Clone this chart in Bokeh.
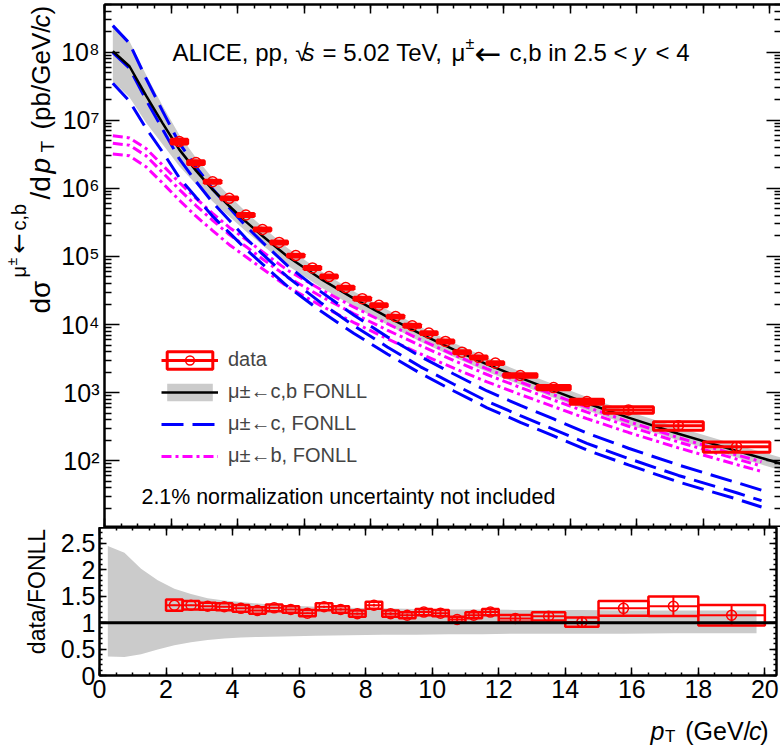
import math
from bokeh.plotting import figure
from bokeh.models import (ColumnDataSource, LinearAxis, LogAxis, Range1d, Label, Legend,
                          LegendItem, CustomJSTickFormatter, FixedTicker,
                          SingleIntervalTicker, Span)
from bokeh.layouts import column, row
from bokeh.embed import file_html
from bokeh.resources import INLINE

FONT = "Liberation Sans"
SYMF = "DejaVu Sans"
RED = "#ff0000"
BLUE = "#0000ff"
MAGENTA = "#ff00ff"
GRAY = "#cbcbcb"

# ---------------- data ----------------
bin_lo = [2.0, 2.5, 3.0, 3.5, 4.0, 4.5, 5.0, 5.5, 6.0, 6.5, 7.0, 7.5, 8.0, 8.5, 9.0,
          9.5, 10.0, 10.5, 11.0, 11.5, 12.0, 13.0, 14.0, 15.0, 16.5, 18.0]
bin_hi = [2.5, 3.0, 3.5, 4.0, 4.5, 5.0, 5.5, 6.0, 6.5, 7.0, 7.5, 8.0, 8.5, 9.0, 9.5,
          10.0, 10.5, 11.0, 11.5, 12.0, 13.0, 14.0, 15.0, 16.5, 18.0, 20.0]
xsec = [4.86e6, 2.39e6, 1.25e6, 7.13e5, 4.06e5, 2.49e5, 1.61e5, 1.03e5, 6.79e4, 5.07e4,
        3.49e4, 2.40e4, 1.92e4, 1.31e4, 9.6e3, 7.5e3, 5.66e3, 3.94e3, 3.29e3, 2.72e3,
        1.79e3, 1.19e3, 741, 559, 328, 161]
data_ratio = [1.33, 1.33, 1.31, 1.30, 1.27, 1.23, 1.28, 1.25, 1.18, 1.30, 1.25, 1.17, 1.33,
              1.17, 1.14, 1.20, 1.18, 1.06, 1.14, 1.20, 1.08, 1.12, 1.01, 1.27, 1.31, 1.14]
stat_rel = [0.005, 0.005, 0.005, 0.006, 0.007, 0.008, 0.009, 0.010, 0.012, 0.014, 0.016,
            0.018, 0.020, 0.023, 0.026, 0.030, 0.033, 0.037, 0.040, 0.045, 0.045, 0.060,
            0.080, 0.120, 0.150, 0.180]
sys_rel = [0.08, 0.06, 0.05, 0.05, 0.05, 0.05, 0.05, 0.05, 0.05, 0.05, 0.05, 0.05, 0.05,
           0.05, 0.05, 0.05, 0.05, 0.05, 0.05, 0.05, 0.06, 0.07, 0.085, 0.11, 0.14, 0.17]

fonll_pt = [0.25, 0.75, 1.25, 1.75, 2.25, 2.75, 3.25, 3.75, 4.25, 4.75, 5.5, 6.5, 7.5, 8.5,
            9.5, 10.5, 11.5, 12.5, 13.5, 14.5, 15.75, 17.25, 19.0, 19.75, 20.4]
fonll_cb = [1.03e8, 6.2e7, 2.3e7, 9.0e6, 3.7e6, 1.82e6, 9.6e5, 5.5e5, 3.25e5, 2.0e5, 1.0e5,
            4.7e4, 2.4e4, 1.3e4, 7.3e3, 4.3e3, 2.6e3, 1.65e3, 1.07e3, 700, 430, 250, 140,
            110, 89]
band_up_ratio = [2.45, 2.32, 2.02, 1.80, 1.64, 1.54, 1.46, 1.42, 1.39, 1.36, 1.33, 1.30,
                 1.28, 1.27, 1.26, 1.25, 1.25, 1.24, 1.24, 1.24, 1.23, 1.23, 1.23, 1.23, 1.23]
band_lo_ratio = [0.36, 0.35, 0.40, 0.49, 0.57, 0.63, 0.67, 0.70, 0.72, 0.73, 0.74, 0.75,
                 0.76, 0.77, 0.77, 0.78, 0.78, 0.79, 0.79, 0.79, 0.79, 0.80, 0.80, 0.80, 0.80]

comp_pt = [0.25, 0.75, 1.25, 1.75, 2.25, 2.75, 3.25, 3.75, 4.25, 4.75, 5.5, 6.5, 7.5, 8.5,
           9.5, 10.5, 11.5, 12.5, 13.5, 14.5, 15.75, 17.25, 19.0, 19.75]
charm_c = [9.8e7, 5.8e7, 2.0e7, 7.3e6, 2.7e6, 1.26e6, 6.2e5, 3.4e5, 1.85e5, 1.08e5, 5.0e4,
           2.1e4, 9.6e3, 4.7e3, 2.4e3, 1.33e3, 750, 460, 290, 180, 108, 61, 34, 26]
charm_up = [2.45e8, 1.35e8, 4.1e7, 1.35e7, 4.6e6, 2.07e6, 9.8e5, 5.2e5, 2.8e5, 1.61e5, 7.35e4,
            3.05e4, 1.37e4, 6.6e3, 3.38e3, 1.88e3, 1.06e3, 650, 412, 256, 153, 87, 48, 37]
charm_lo = [3.5e7, 1.9e7, 7.6e6, 3.4e6, 1.43e6, 7.4e5, 3.9e5, 2.24e5, 1.28e5, 7.7e4, 3.65e4,
            1.58e4, 7.4e3, 3.7e3, 1.92e3, 1.06e3, 600, 368, 232, 144, 87, 49, 27.5, 21]
beauty_c = [4.6e6, 4.3e6, 3.0e6, 1.7e6, 9.6e5, 5.6e5, 3.4e5, 2.1e5, 1.4e5, 9.2e4, 5.0e4,
            2.6e4, 1.44e4, 8.3e3, 4.9e3, 2.97e3, 1.85e3, 1.19e3, 780, 520, 322, 189, 106, 84]
beauty_up = [5.9e6, 5.5e6, 3.84e6, 2.18e6, 1.22e6, 7.1e5, 4.3e5, 2.67e5, 1.78e5, 1.17e5,
             6.3e4, 3.28e4, 1.8e4, 1.03e4, 6.0e3, 3.6e3, 2.24e3, 1.43e3, 930, 614, 377, 219,
             122, 97]
beauty_lo = [3.2e6, 3.0e6, 2.07e6, 1.19e6, 6.7e5, 3.9e5, 2.4e5, 1.49e5, 9.9e4, 6.6e4, 3.6e4,
             1.9e4, 1.07e4, 6.2e3, 3.7e3, 2.29e3, 1.44e3, 940, 624, 416, 261, 155, 88, 70]

ratio_ref = 1.0
x_range = (0.0, 20.35)
y_range_main = (10.5, 5.0e8)
y_range_ratio = (0.0, 2.8)

# ---------------- derived sources ----------------
centers = [(a + b) / 2 for a, b in zip(bin_lo, bin_hi)]


def err_source(vals):
    return ColumnDataSource(dict(
        lo=bin_lo, hi=bin_hi, x=centers, y=vals,
        sys_lo=[v * (1 - s) for v, s in zip(vals, sys_rel)],
        sys_hi=[v * (1 + s) for v, s in zip(vals, sys_rel)],
        st_lo=[v * (1 - s) for v, s in zip(vals, stat_rel)],
        st_hi=[v * (1 + s) for v, s in zip(vals, stat_rel)],
    ))


main_src = err_source(xsec)
ratio_src = err_source(data_ratio)
band_main_lo = [c * r for c, r in zip(fonll_cb, band_lo_ratio)]
band_main_hi = [c * r for c, r in zip(fonll_cb, band_up_ratio)]
nr = len(comp_pt)

# page geometry (px)
PAGE_W, PAGE_H = 778, 746
YT_W = 57                 # width of the y-title strips
FRAME_L = 98              # page x of frame left edge
FRAME_W = 677
MAIN_TOP, MAIN_H = 4, 523
RATIO_H = 148
RATIO_BOT_BORDER = 37
MAIN_FIG_H = MAIN_TOP + MAIN_H
RATIO_FIG_H = RATIO_H + RATIO_BOT_BORDER
XT_TOP = MAIN_FIG_H + RATIO_FIG_H
XT_H = PAGE_H - XT_TOP
XT_BOTTOM = XT_TOP + XT_H

SUP = ("const s={'0':'\u2070','1':'\u00b9','2':'\u00b2','3':'\u00b3','4':'\u2074',"
       "'5':'\u2075','6':'\u2076','7':'\u2077','8':'\u2078','9':'\u2079','-':'\u207b'};")
log_fmt = CustomJSTickFormatter(code=SUP + """
const e = Math.round(Math.log10(tick));
return '10' + String(e).split('').map(c => s[c]).join('');
""")
ratio_fmt = CustomJSTickFormatter(code="return String(Math.round(tick*10)/10);")


def blank_fmt():
    return CustomJSTickFormatter(code="return '';")


def style_axis(ax, major_in, minor_in, labels=True, size="25px"):
    ax.major_tick_in = major_in
    ax.major_tick_out = 0
    ax.minor_tick_in = minor_in
    ax.minor_tick_out = 0
    ax.axis_line_color = "black"
    ax.axis_line_width = 2
    ax.major_tick_line_width = 1.5
    ax.minor_tick_line_width = 1.5
    ax.major_label_text_font = FONT
    ax.major_label_text_color = "black"
    if labels:
        ax.major_label_text_font_size = size
    else:
        ax.major_label_text_font_size = "0px"
        ax.major_label_standoff = 0


def blank_fig(w, h):
    f = figure(frame_width=w, frame_height=h, x_range=Range1d(0, w), y_range=Range1d(0, h),
               output_backend="svg", toolbar_location=None, x_axis_location=None,
               y_axis_location=None, min_border=0, min_border_left=0, min_border_right=0,
               min_border_top=0, min_border_bottom=0, frame_align=False)
    f.grid.visible = False
    f.outline_line_color = None
    return f


def lab(fig, text, x, y, size, style="normal", angle=0.0, align="left",
        baseline="alphabetic", font=FONT, units="data"):
    fig.add_layout(Label(x=x, y=y, x_units=units, y_units=units,
                         text=text, text_font=font, text_font_size=f"{size}px",
                         text_font_style=style, angle=angle, text_align=align,
                         text_baseline=baseline, text_color="black"))


# ---------------- main panel ----------------
p = figure(frame_width=FRAME_W, frame_height=MAIN_H, y_axis_type="log",
           x_range=Range1d(*x_range), y_range=Range1d(*y_range_main),
           output_backend="svg", toolbar_location=None,
           min_border_left=FRAME_L - YT_W, min_border_right=3, min_border_top=MAIN_TOP,
           min_border_bottom=0)
p.grid.visible = False
p.outline_line_color = "black"
p.outline_line_width = 2

y_major = [10.0 ** k for k in range(1, 10)]
y_minor = [m * 10.0 ** k for k in range(1, 9) for m in range(2, 10)]
p.yaxis.ticker = FixedTicker(ticks=y_major, minor_ticks=y_minor)
p.yaxis.formatter = log_fmt
style_axis(p.yaxis[0], 15, 7)
p.yaxis.major_label_standoff = 5

p.xaxis.ticker = SingleIntervalTicker(interval=2, num_minor_ticks=4)
p.xaxis.formatter = blank_fmt()
style_axis(p.xaxis[0], 9, 4, labels=False)

ax_r = LogAxis(ticker=FixedTicker(ticks=y_major, minor_ticks=y_minor), formatter=blank_fmt())
style_axis(ax_r, 15, 7, labels=False)
p.add_layout(ax_r, "right")
ax_t = LinearAxis(ticker=SingleIntervalTicker(interval=2, num_minor_ticks=4),
                  formatter=blank_fmt())
style_axis(ax_t, 9, 4, labels=False)
p.add_layout(ax_t, "above")

band = p.varea(x=fonll_pt, y1=band_main_lo, y2=band_main_hi, fill_color=GRAY)
for ys in (beauty_up, beauty_lo):
    p.line(comp_pt, ys, line_color=MAGENTA, line_width=3, line_dash="10 4 3 4")
b_line = p.line(comp_pt, beauty_c, line_color=MAGENTA, line_width=3, line_dash="10 4 3 4")
for ys in (charm_up, charm_lo):
    p.line(comp_pt, ys, line_color=BLUE, line_width=3, line_dash="22 9")
c_line = p.line(comp_pt, charm_c, line_color=BLUE, line_width=3, line_dash="22 9")
cb_line = p.line(fonll_pt, fonll_cb, line_color="black", line_width=2.5)

box = p.quad(left="lo", right="hi", bottom="sys_lo", top="sys_hi", source=main_src,
             fill_color=None, line_color=RED, line_width=3)
hbar = p.segment(x0="lo", x1="hi", y0="y", y1="y", source=main_src, line_color=RED,
                 line_width=3)
p.segment(x0="x", x1="x", y0="st_lo", y1="st_hi", source=main_src, line_color=RED,
          line_width=2)
mk = p.scatter(x="x", y="y", source=main_src, marker="circle", size=10, fill_color=None,
               line_color=RED, line_width=1.5)

legend = Legend(items=[
    LegendItem(label="data", renderers=[box, hbar, mk]),
    LegendItem(label="\u03bc\u00b1\u2190c,b FONLL", renderers=[band, cb_line]),
    LegendItem(label="\u03bc\u00b1\u2190c, FONLL", renderers=[c_line]),
    LegendItem(label="\u03bc\u00b1\u2190b, FONLL", renderers=[b_line]),
], location=(57, 60), border_line_color=None, background_fill_alpha=0, padding=0, margin=0,
    spacing=9, glyph_width=57, glyph_height=22, label_height=20, label_standoff=10,
    label_text_font=FONT, label_text_font_size="20px")
p.add_layout(legend)


def mlab(text, X, Y, size, **kw):
    # page coordinates -> main frame screen coordinates
    lab(p, text, X - FRAME_L, MAIN_FIG_H - Y, size, units="screen", **kw)


# header inside the frame
mlab("ALICE, pp, \u221a", 166, 52, 24)
mlab("s", 296, 52, 24, style="italic")
mlab("= 5.02 TeV,", 316, 52, 24)
mlab("\u03bc", 445, 52, 24)
mlab("\u00b1", 459, 43, 16)
mlab("\u2190", 468, 53, 32, font=SYMF)
mlab("c,b in 2.5 <", 503, 52, 24)
mlab("y", 627, 52, 24, style="italic")
mlab("< 4", 649, 52, 24)
mlab("2.1% normalization uncertainty not included", 135, 496, 21.4)

# ---------------- y-title strip (main) ----------------
yt = blank_fig(YT_W, MAIN_FIG_H)
R = math.pi / 2


def ylab(text, X, Y, size, **kw):
    lab(yt, text, X, MAIN_FIG_H - Y, size, angle=R, baseline="middle", **kw)


ylab("d\u03c3", 40, 313, 28)
ylab("\u03bc", 18, 277, 20)
ylab("\u00b1", 11, 265, 14)
ylab("\u2190", 18, 253, 24, font=SYMF)
ylab("c,b", 18, 230, 20)
ylab("/d", 40, 199, 28)
ylab("p", 40, 173, 28, style="italic")
ylab("T", 47, 152, 19)
ylab("(pb/GeV/", 40, 25, 26, align="right")
ylab("c", 40, 27, 26, style="italic")
ylab(")", 40, 14, 26)

# ---------------- ratio panel ----------------
r = figure(frame_width=FRAME_W, frame_height=RATIO_H, x_range=p.x_range,
           y_range=Range1d(*y_range_ratio), output_backend="svg", toolbar_location=None,
           min_border_left=FRAME_L - YT_W, min_border_right=3, min_border_top=0,
           min_border_bottom=RATIO_BOT_BORDER)
r.grid.visible = False
r.outline_line_color = "black"
r.outline_line_width = 2

r.xaxis.ticker = SingleIntervalTicker(interval=2, num_minor_ticks=4)
style_axis(r.xaxis[0], 8, 3)
r.xaxis.major_label_standoff = 4
r.yaxis.ticker = SingleIntervalTicker(interval=0.5, num_minor_ticks=5)
r.yaxis.formatter = ratio_fmt
style_axis(r.yaxis[0], 7, 3)
r.yaxis.major_label_standoff = 4

ax_rr = LinearAxis(ticker=SingleIntervalTicker(interval=0.5, num_minor_ticks=5),
                   formatter=blank_fmt())
style_axis(ax_rr, 7, 3, labels=False)
r.add_layout(ax_rr, "right")
ax_rt = LinearAxis(ticker=SingleIntervalTicker(interval=2, num_minor_ticks=4),
                   formatter=blank_fmt())
style_axis(ax_rt, 8, 3, labels=False)
r.add_layout(ax_rt, "above")

r.varea(x=comp_pt, y1=band_lo_ratio[:nr], y2=band_up_ratio[:nr], fill_color=GRAY)
r.add_layout(Span(location=ratio_ref, dimension="width", line_color="black", line_width=3))
r.quad(left="lo", right="hi", bottom="sys_lo", top="sys_hi", source=ratio_src,
       fill_color=None, line_color=RED, line_width=2.5)
r.segment(x0="lo", x1="hi", y0="y", y1="y", source=ratio_src, line_color=RED, line_width=2)
r.segment(x0="x", x1="x", y0="st_lo", y1="st_hi", source=ratio_src, line_color=RED,
          line_width=2)
r.scatter(x="x", y="y", source=ratio_src, marker="circle", size=10, fill_color=None,
          line_color=RED, line_width=1.5)

# ---------------- y-title strip (ratio) ----------------
yr = blank_fig(YT_W, RATIO_FIG_H)
lab(yr, "data/FONLL", 36, (MAIN_FIG_H + RATIO_FIG_H) - 591, 23, angle=R, align="center",
    baseline="middle")

# ---------------- x-title strip ----------------
xt = blank_fig(PAGE_W, XT_H)


def xlab(text, X, Y, size, **kw):
    lab(xt, text, X, XT_BOTTOM - Y, size, **kw)


xlab(")", 768, 730, 25, align="right")
xlab("c", 761, 730, 25, style="italic", align="right")
xlab("(GeV/", 750, 730, 25, align="right")
xlab("T", 675, 736, 17, align="right")
xlab("p", 664, 730, 25, style="italic", align="right")

layout = column(row(yt, p, spacing=0), row(yr, r, spacing=0), xt, spacing=0)
open("out.html", "w").write(file_html(layout, INLINE))
